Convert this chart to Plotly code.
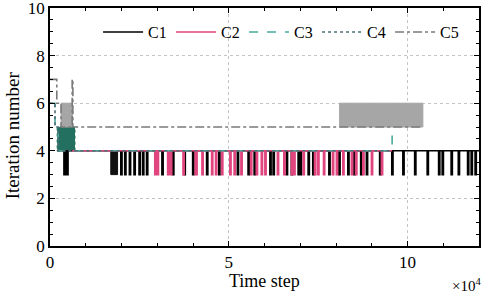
import plotly.graph_objects as go

# ---- data (time step in units of 1e4) ----
c1_start, c1_end, c1_level, c1_low = 0.20, 12.0, 4, 3
c1_spikes = [0.39, 0.43, 0.47, 1.98, 2.09, 2.22, 2.35, 2.49, 2.59, 2.70, 3.13, 3.43,
             3.75, 3.99, 4.38, 4.72, 5.24, 5.54, 5.71, 6.15, 6.24, 6.61, 6.75, 6.94,
             7.00, 7.22, 7.35, 7.80, 8.08, 8.33, 8.50, 8.69, 8.85, 9.22, 9.56, 9.87,
             10.20, 10.55, 10.87, 10.97, 11.22, 11.42, 11.68, 11.78, 11.89]
c1_clusters = [(1.70, 1.89)]

c2_start, c2_end, c2_level, c2_low = 0.62, 9.57, 4, 3
c2_spikes = [2.93, 3.00, 3.29, 3.37, 3.72, 4.06, 4.08, 4.25, 4.52, 4.63, 4.80, 5.03,
             5.15, 5.34, 5.61, 5.77, 5.91, 6.01, 6.36, 6.54, 6.75, 6.82, 7.08, 7.40,
             7.49, 7.65, 7.90, 8.01, 8.19, 8.43, 8.55, 8.75, 8.99, 9.27]

c3_x = [0, 0.14, 0.14, 0.23, 0.23, 0.62, 0.62, 9.57, 9.57]
c3_y = [6, 6, 5, 5, 4, 4, 4, 4, 5]
c4_x = [0, 0.14, 0.14, 0.23, 0.23, 0.70, 0.70, 9.57]
c4_y = [6, 6, 5, 5, 4, 4, 4, 4]
c34_block = (0.20, 0.70, 4, 5)

c5_x = [0, 0.19, 0.19, 0.31, 0.31, 0.62, 0.62, 0.64, 0.64, 8.10, 8.10, 10.43]
c5_y = [7, 7, 6, 6, 5, 5, 7, 7, 5, 5, 5, 5]
c5_blocks = [(0.31, 0.62, 5, 6), (8.10, 10.43, 5, 6)]

x_ticks = [0, 5, 10]
x_ticklabels = ["0", "5", "10"]
y_ticks = [0, 2, 4, 6, 8, 10]

names = ["C1", "C2", "C3", "C4", "C5"]
colors = ["#000000", "#e0457e", "#4aab9c", "#4e6f78", "#7a7a7a"]
dashes = ["solid", "solid", "dash", "dot", "dashdot"]

FONT = "Liberation Serif, DejaVu Serif, serif"


def spike_path(start, end, level, low, spikes, w=0.035):
    xs, ys = [start], [level]
    for s in spikes:
        xs += [s, s, s + w, s + w]
        ys += [level, low, low, level]
    xs.append(end)
    ys.append(level)
    return xs, ys


def rect(b):
    x0, x1, y0, y1 = b
    return [x0, x1, x1, x0, x0], [y0, y0, y1, y1, y0]


fig = go.Figure()

# blocks (dense oscillation regions)
for b in c1_clusters:
    rx, ry = rect((b[0], b[1], c1_low, c1_level))
    fig.add_trace(go.Scatter(x=rx, y=ry, fill="toself", fillcolor="#111111",
                             line=dict(color="#111111", width=1), mode="lines",
                             showlegend=False, hoverinfo="skip"))
rx, ry = rect(c34_block)
fig.add_trace(go.Scatter(x=rx, y=ry, fill="toself", fillcolor="#237060",
                         line=dict(color="#237060", width=1, dash="dot"), mode="lines",
                         showlegend=False, hoverinfo="skip"))
for b in c5_blocks:
    rx, ry = rect(b)
    fig.add_trace(go.Scatter(x=rx, y=ry, fill="toself", fillcolor="#a6a6a6",
                             line=dict(color="#a6a6a6", width=1), mode="lines",
                             showlegend=False, hoverinfo="skip"))

x1, y1 = spike_path(c1_start, c1_end, c1_level, c1_low, c1_spikes)
x2, y2 = spike_path(c2_start, c2_end, c2_level, c2_low, c2_spikes)
series = [(x1, y1), (x2, y2), (c3_x, c3_y), (c4_x, c4_y), (c5_x, c5_y)]
for (xs, ys), n, c, d in zip(series, names, colors, dashes):
    fig.add_trace(go.Scatter(x=xs, y=ys, mode="lines", name=n,
                             line=dict(color=c, width=1.6, dash=d)))

axis_common = dict(showline=True, linecolor="black", linewidth=1.5, mirror="allticks",
                   ticks="inside", ticklen=5, tickcolor="black", zeroline=False,
                   showgrid=True, gridcolor="#c4c4c4", griddash="dot", gridwidth=1,
                   automargin=False, ticklabeloverflow="allow",
                   tickfont=dict(family=FONT, size=17, color="black"))

fig.update_xaxes(range=[0, 12], tickmode="array", tickvals=x_ticks, ticktext=x_ticklabels,
                 minor=dict(tickmode="linear", tick0=0, dtick=1, ticks="inside", ticklen=3,
                            tickcolor="black", showgrid=False),
                 **axis_common)
fig.update_yaxes(range=[0, 10], tickmode="array", tickvals=y_ticks,
                 minor=dict(tickmode="linear", tick0=0, dtick=0.5, ticks="inside", ticklen=3,
                            tickcolor="black", showgrid=False),
                 **axis_common)

# axis titles and exponent
fig.add_annotation(text="Time step", xref="paper", yref="paper", x=0.5, y=-0.148,
                   xanchor="center", yanchor="middle", showarrow=False,
                   font=dict(family=FONT, size=18, color="black"))
fig.add_annotation(text="Iteration number", xref="paper", yref="paper", x=-0.088, y=0.466,
                   xanchor="center", yanchor="middle", textangle=-90, showarrow=False,
                   font=dict(family=FONT, size=19, color="black"))
fig.add_annotation(text="×10<sup>4</sup>", xref="paper", yref="paper", x=1.01, y=-0.118,
                   xanchor="right", yanchor="top", showarrow=False,
                   font=dict(family=FONT, size=15, color="black"))

fig.update_layout(width=484, height=296, margin=dict(l=50, r=5, t=8, b=50),
                  paper_bgcolor="white", plot_bgcolor="white",
                  legend=dict(orientation="h", x=0.112, y=0.97, xanchor="left", yanchor="top",
                              bgcolor="rgba(0,0,0,0)", entrywidth=18, entrywidthmode="pixels",
                              font=dict(family=FONT, size=16, color="black"),
                              tracegroupgap=0, itemwidth=40))

fig.write_html("out.html", post_script="document.body.style.margin='0';",
               config={"displayModeBar": False})
